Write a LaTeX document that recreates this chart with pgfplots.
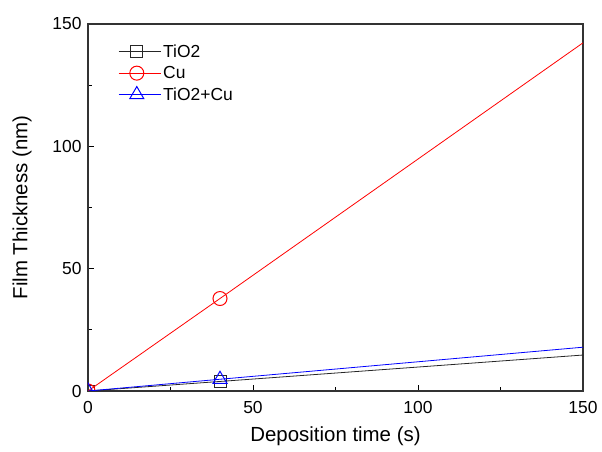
\documentclass[border=0pt]{standalone}
\usepackage{fontspec}
\setmainfont{Liberation Sans}
\usepackage{pgfplots}
\pgfplotsset{compat=1.18}

\begin{document}
\begin{tikzpicture}
\begin{axis}[
    scale only axis,
    width=495bp, height=367bp,
    xmin=0, xmax=150, ymin=0, ymax=150,
    xtick={0,50,100,150}, ytick={0,50,100,150},
    minor xtick={25,75,125}, minor ytick={25,75,125},
    tick align=inside,
    xtick pos=bottom, ytick pos=left,
    major tick length=6bp, minor tick length=4bp,
    tick style={line width=1pt, black},
    axis line style={line width=1.5pt, black!80},
    /pgf/number format/assume math mode=true,
    tick label style={font=\fontsize{17.5}{21}\selectfont},
    xticklabel shift=7bp, yticklabel shift=3bp,
    xlabel={Deposition time (s)}, ylabel={Film Thickness (nm)},
    label style={font=\fontsize{20.5}{24}\selectfont},
    xlabel shift=6bp, ylabel shift=14bp,
    clip marker paths=true,
    legend style={draw=none, fill=none, at={(0.055,0.955)}, anchor=north west,
        font=\fontsize{17.5}{21}\selectfont, row sep=3.5bp},
    legend cell align=left,
    legend image code/.code={
        \draw[mark indices={2}] plot coordinates {(0bp,0bp) (18bp,0bp) (37bp,0bp)};
        \path (0bp,0bp) -- (42bp,0bp);
    },
]
\addplot[black!85, line width=0.8pt, mark=square, mark size=6bp, mark indices={1,2},
    mark options={solid, line width=0.9pt}]
    coordinates {(0,0) (40,3.9) (150,14.7)};
\addlegendentry{TiO2}
\addplot[red, line width=0.8pt, mark=o, mark size=7bp, mark indices={1,2},
    mark options={solid, line width=1pt}]
    coordinates {(0,0) (40,37.8) (150,142.3)};
\addlegendentry{Cu}
\addplot[blue, line width=0.8pt, mark=triangle, mark size=8bp, mark indices={1,2},
    mark options={solid, line width=1pt}]
    coordinates {(0,0) (40,4.8) (150,17.9)};
\addlegendentry{TiO2+Cu}
\end{axis}
\pgfresetboundingbox
\path (-88bp,-61bp) rectangle (514bp,391bp);
\end{tikzpicture}
\end{document}
